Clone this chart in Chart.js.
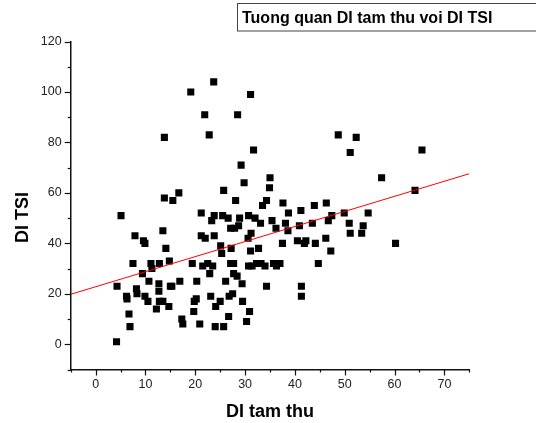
<!DOCTYPE html>
<html>
<head>
    <title>Tuong quan DI tam thu voi DI TSI</title>
    <script src="https://cdn.jsdelivr.net/npm/chart.js@4"></script>
    <style>
        body { margin: 0; background: #fff; }
        canvas { display: block; }
    </style>
</head>
<body>
    <canvas id="plotCanvas" width="536" height="423"></canvas>
    <script>
        // ========= Data =================================
        const diTamThu = [
            4.2, 4.3, 5.1, 6.2, 6.3, 6.7, 6.9, 7.5, 7.9, 8.2,
            8.3, 9.4, 9.6, 9.9, 9.9, 10.5, 10.7, 11.1, 11.3, 12.2,
            12.7, 12.7, 12.8, 12.8, 13.5, 13.5, 13.8, 13.8, 14.1, 14.7,
            14.8, 15.0, 15.3, 15.5, 16.7, 16.9, 17.3, 17.5, 19.1, 19.4,
            19.7, 19.8, 20.2, 20.3, 20.9, 21.2, 21.2, 21.5, 21.9, 22.0,
            22.5, 22.8, 22.9, 23.1, 23.3, 23.5, 23.7, 23.8, 23.8, 24.0,
            24.1, 25.0, 25.1, 25.3, 25.5, 25.7, 25.7, 26.1, 26.6, 26.7,
            26.8, 27.1, 27.1, 27.2, 27.5, 27.9, 27.7, 27.7, 28.1, 28.4,
            28.5, 28.7, 28.9, 29.2, 29.4, 29.5, 29.8, 30.3, 30.6, 30.7,
            30.7, 30.9, 31.1, 31.1, 31.2, 31.4, 31.7, 32.0, 32.3, 32.7,
            33.1, 33.2, 33.5, 34.0, 34.3, 34.3, 34.9, 35.0, 35.4, 35.7,
            36.2, 36.3, 37.0, 37.5, 37.6, 38.1, 38.6, 38.7, 40.5, 40.9,
            41.2, 41.3, 41.3, 41.9, 42.2, 43.5, 43.9, 44.1, 44.7, 46.2,
            46.3, 46.7, 47.2, 47.4, 48.7, 49.9, 50.9, 51.1, 51.1, 52.3,
            53.4, 53.7, 54.7, 57.4, 60.2, 64.1, 65.5
        ]
        const diTSI = [
            1, 23, 51, 19, 18, 12, 7, 32, 43, 22,
            20, 28, 41, 40, 19, 17, 25, 32, 30, 14,
            24, 21, 32, 17, 17, 45, 82, 58, 38, 15,
            33, 23, 23, 57, 60, 25, 10, 8, 100, 32,
            13, 17, 18, 25, 8, 52, 43, 31, 91, 42,
            32, 83, 28, 19, 49, 31, 104, 51, 43, 7,
            15, 17, 39, 36, 51, 61, 7, 25, 50, 11,
            19, 46, 32, 38, 20, 46, 32, 28, 57, 27,
            91, 47, 50, 71, 24, 17, 64, 9, 42, 51,
            31, 13, 99, 37, 44, 31, 77, 50, 32, 38,
            48, 32, 55, 31, 57, 23, 62, 66, 49, 32,
            46, 31, 32, 40, 56, 48, 45, 52, 41, 47,
            53, 23, 19, 40, 41, 48, 55, 40, 32, 42,
            56, 49, 37, 51, 83, 52, 48, 76, 44, 82,
            44, 47, 52, 66, 40, 61, 77
        ]

        // linear fit drawn across the whole x range
        const fitX = [-5, 75]
        const fitY = [19.8, 67.6]

        const xTickLabels = [0, 10, 20, 30, 40, 50, 60, 70]
        const yTickLabels = [0, 20, 40, 60, 80, 100, 120]

        const titleText = 'Tuong quan DI tam thu voi DI TSI'
        const xTitle = 'DI tam thu'
        const yTitle = 'DI TSI'

        // ========= Chart setup ==========
        const FONT = '"Liberation Sans", Arial, sans-serif'
        Chart.defaults.font.family = FONT

        const decorations = {
            id: 'decorations',
            afterDraw(chart) {
                const { ctx, chartArea, scales } = chart
                const xs = scales.x, ys = scales.y
                ctx.save()
                ctx.strokeStyle = '#111'
                ctx.lineWidth = 1.2
                // tick marks, long where there is a label
                ys.ticks.forEach(t => {
                    const y = Math.round(ys.getPixelForValue(t.value)) + 0.5
                    const len = yTickLabels.includes(t.value) ? 6 : 3
                    ctx.beginPath()
                    ctx.moveTo(chartArea.left - len, y)
                    ctx.lineTo(chartArea.left, y)
                    ctx.stroke()
                })
                xs.ticks.forEach(t => {
                    const x = Math.round(xs.getPixelForValue(t.value)) + 0.5
                    const len = xTickLabels.includes(t.value) ? 6 : 3
                    ctx.beginPath()
                    ctx.moveTo(x, chartArea.bottom)
                    ctx.lineTo(x, chartArea.bottom + len)
                    ctx.stroke()
                })

                // axis titles
                ctx.fillStyle = '#000'
                ctx.font = 'bold 18px ' + FONT
                ctx.textAlign = 'center'
                ctx.textBaseline = 'alphabetic'
                ctx.fillText(xTitle, (chartArea.left + chartArea.right) / 2, 416.5)
                ctx.save()
                ctx.translate(28, 217.5)
                ctx.rotate(-Math.PI / 2)
                ctx.fillText(yTitle, 0, 0)
                ctx.restore()

                // boxed title
                ctx.strokeStyle = '#444'
                ctx.lineWidth = 1
                ctx.strokeRect(237.5, 3.5, 300, 27.5)
                ctx.font = 'bold 16px ' + FONT
                ctx.textAlign = 'left'
                ctx.fillText(titleText, 242, 22.5)
                ctx.restore()
            }
        }

        const canvas = document.getElementById('plotCanvas')
        const chart = new Chart(canvas, {
            data: {
                datasets: [
                    {
                        type: 'line',
                        data: fitX.map((x, i) => ({ x, y: fitY[i] })),
                        borderColor: '#ff0000',
                        borderWidth: 1,
                        pointRadius: 0,
                        fill: false,
                    },
                    {
                        type: 'scatter',
                        data: diTamThu.map((x, i) => ({ x, y: diTSI[i] })),
                        pointStyle: 'rect',
                        pointRadius: 5,
                        pointBorderWidth: 0,
                        backgroundColor: '#000',
                        borderColor: '#000',
                    },
                ],
            },
            options: {
                responsive: false,
                animation: false,
                events: [],
                layout: { padding: { left: 0, top: 41.5, right: 66.7, bottom: 0 } },
                plugins: { legend: { display: false }, tooltip: { enabled: false } },
                scales: {
                    x: {
                        type: 'linear',
                        min: -5,
                        max: 75,
                        afterFit: s => { s.height = 53.5 },
                        grid: { display: false, drawTicks: false },
                        border: { display: true, color: '#111', width: 1.5 },
                        ticks: {
                            stepSize: 5,
                            padding: 8,
                            color: '#222',
                            font: { size: 12.5 },
                            maxRotation: 0,
                            autoSkip: false,
                            callback: v => (xTickLabels.includes(v) ? v : ''),
                        },
                    },
                    y: {
                        type: 'linear',
                        min: -10,
                        max: 120,
                        afterFit: s => { s.width = 70.7 },
                        grid: { display: false, drawTicks: false },
                        border: { display: true, color: '#111', width: 1.5 },
                        ticks: {
                            stepSize: 10,
                            padding: 9,
                            color: '#222',
                            font: { size: 12.5 },
                            autoSkip: false,
                            callback: v => (yTickLabels.includes(v) ? v : ''),
                        },
                    },
                },
            },
            plugins: [decorations],
        })
    </script>
</body>
</html>
